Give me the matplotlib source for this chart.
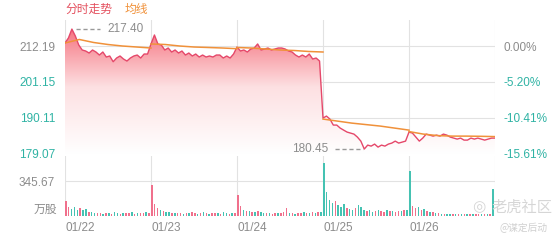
import numpy as np
import matplotlib
matplotlib.use("Agg")
import matplotlib.pyplot as plt
from matplotlib.colors import LinearSegmentedColormap

plt.rcParams['font.family'] = ['Liberation Sans', 'Noto Sans CJK SC', 'DejaVu Sans']

# data
dates = ['01/22', '01/23', '01/24', '01/25', '01/26']
prev_close = 212.19
price_ticks = [212.19, 201.15, 190.11, 179.07]
pct_labels = ['0.00%', '-5.20%', '-10.41%', '-15.61%']
vol_tick = 345.67

price_d1 = [213.12, 214.66, 217.40, 215.27, 212.50, 210.96, 210.65, 210.03, 210.96, 210.34,
            209.41, 210.34, 208.80, 209.11, 207.35, 208.49, 209.11, 208.18, 207.56, 208.49,
            209.11, 209.41, 208.49, 209.72, 209.72]
price_d2 = [212.81, 215.58, 212.81, 212.50, 210.96, 211.57, 210.34, 210.96, 210.03, 210.65,
            209.41, 210.03, 209.11, 209.72, 208.80, 209.41, 208.80, 209.11, 208.80, 209.41,
            209.41, 208.49, 209.11, 208.49, 209.72]
price_d3 = [211.88, 210.65, 210.96, 210.34, 211.26, 211.57, 212.81, 210.96, 211.26, 211.57,
            210.96, 211.26, 211.57, 211.57, 211.26, 210.65, 210.34, 209.41, 208.80, 209.41,
            208.80, 209.72, 208.18, 208.49, 207.56]
price_d4 = [189.98, 190.60, 189.68, 187.83, 187.83, 186.90, 186.28, 185.67, 185.36, 185.05,
            184.13, 182.89, 180.45, 181.66, 181.35, 181.97, 181.04, 181.66, 181.35, 181.97,
            182.28, 182.89, 182.28, 182.58, 182.89]
price_d5 = [185.67, 185.36, 184.13, 182.89, 183.82, 185.05, 184.74, 184.43, 184.74, 184.43,
            185.05, 184.74, 184.13, 183.82, 183.51, 183.82, 183.20, 183.20, 183.82, 183.51,
            183.82, 183.51, 183.20, 183.51, 183.82, 183.82]

avg_d1 = [213.12, 214.20, 213.27, 212.65, 212.19, 211.88, 211.57]
avg_d2 = [212.81, 212.65, 212.19, 211.88, 211.73, 211.57, 211.36]
avg_d3 = [211.73, 211.57, 211.26, 210.96, 210.80, 210.50, 210.34]
avg_d4 = [189.68, 189.06, 188.44, 187.98, 187.52, 186.90, 186.28]
avg_d5 = [185.83, 185.05, 184.59, 184.43, 184.43, 184.37, 184.28]

vol_d1 = [150, 90, 70, 85, 60, 75, 55, 70, 40, 35, 30, 25, 30, 20, 25,
          30, 22, 35, 25, 20, 30, 25, 28, 35, 22, 30, 25, 30, 35, 28]
vol_d2 = [306, 120, 80, 60, 45, 40, 35, 30, 25, 30, 25, 20, 30, 25, 40,
          25, 20, 30, 35, 25, 20, 28, 25, 30, 22, 35, 25, 20, 25, 30]
vol_d3 = [207, 100, 60, 50, 45, 40, 35, 45, 40, 30, 25, 30, 20, 25, 30,
          25, 35, 80, 30, 25, 20, 30, 25, 35, 25, 30, 40, 30, 35, 40]
vol_d4 = [524, 237, 160, 130, 150, 110, 90, 120, 80, 70, 60, 75, 110, 90, 60,
          50, 55, 40, 45, 60, 50, 40, 55, 45, 50, 40, 45, 50, 55, 60]
vol_d5 = [445, 100, 80, 90, 60, 70, 50, 40, 35, 30, 25, 20, 20, 15, 18,
          20, 15, 18, 20, 15, 18, 20, 15, 18, 20, 18, 15, 20, 18, 267]
# p = up (red), t = down (green)
dir_d1 = "pptttpttpttpptptpttptpptptpptp"
dir_d2 = "ppptpttptpptptpptptptpptpttptp"
dir_d3 = "pptptptpttptpptppptptpptptptpt"
dir_d4 = "ttttptttpttptttpttptpptptpptpt"
dir_d5 = "tpptptptptptpttptptptptpptptpt"

RED = '#e5486a'
ORANGE = '#f0913a'
TEAL = '#2fb3a4'
GRAY = '#8c8c8c'
GRID = '#e2e2e2'

prices = [price_d1, price_d2, price_d3, price_d4, price_d5]
avgs = [avg_d1, avg_d2, avg_d3, avg_d4, avg_d5]
vols = [vol_d1, vol_d2, vol_d3, vol_d4, vol_d5]
dirs = [dir_d1, dir_d2, dir_d3, dir_d4, dir_d5]

px, py = [], []
for d, p in enumerate(prices):
    px += [d + i / 25 for i in range(len(p))]
    py += p
px = np.array(px)
py = np.array(py)

fig = plt.figure(figsize=(5.6, 2.4), dpi=100)
W, H = 560.0, 240.0
ax = fig.add_axes([65 / W, 1 - 154 / H, 430 / W, 134 / H])
axv = fig.add_axes([65 / W, 1 - 216 / H, 430 / W, 60 / H])

ylo, yhi = 178.92, 220.20
ax.set_xlim(0, 5)
ax.set_ylim(ylo, yhi)

# gradient fill under the price line
cmap = LinearSegmentedColormap.from_list('fade', ['#ffffff', '#fde0e2', '#f46472'])
grad = np.linspace(0, 1, 256).reshape(-1, 1)
img = ax.imshow(grad, extent=[0, 5, ylo, yhi], origin='lower', aspect='auto',
                cmap=cmap, zorder=1)
poly = ax.fill_between(px, py, ylo, facecolor='none', edgecolor='none')
img.set_clip_path(poly.get_paths()[0], transform=ax.transData)

for t in price_ticks:
    ax.axhline(t, color=GRID, lw=0.8, zorder=0.5)
for d in range(6):
    ax.axvline(d, color=GRID, lw=0.8, zorder=0.5)
    axv.axvline(d, color=GRID, lw=0.8, zorder=0.5)

ax.plot(px, py, color=RED, lw=1.0, zorder=3)
# average line, one piece per day
for d, a in enumerate(avgs):
    ax.plot(np.linspace(d, d + 1, len(a)), a, color=ORANGE, lw=1.1, zorder=4)

# high / low markers
ax.plot([0.13, 0.41], [217.40, 217.40], ls=(0, (3, 2)), color='#999999', lw=1.0, zorder=5)
ax.text(0.49, 217.40, '217.40', color=GRAY, fontsize=8.5, va='center', ha='left', zorder=5)
ax.plot([3.14, 3.46], [180.45, 180.45], ls=(0, (3, 2)), color='#999999', lw=1.0, zorder=5)
ax.text(3.06, 180.45, '180.45', color=GRAY, fontsize=8.5, va='center', ha='right', zorder=5)

ax.set_yticks(price_ticks)
ax.set_yticklabels(['%.2f' % t for t in price_ticks])
for lab, t in zip(ax.get_yticklabels(), price_ticks):
    lab.set_color(GRAY if t >= prev_close else TEAL)
ax.tick_params(axis='y', length=0, pad=7, labelsize=8.5)
ax.set_xticks([])

axr = ax.twinx()
axr.set_ylim(ylo, yhi)
axr.set_yticks(price_ticks)
axr.set_yticklabels(pct_labels)
for lab, t in zip(axr.get_yticklabels(), price_ticks):
    lab.set_color(GRAY if t >= prev_close else TEAL)
axr.tick_params(axis='y', length=0, pad=6, labelsize=8.5)

# volume bars
for d in range(5):
    xs = [d + 0.01 + i / 30 for i in range(len(vols[d]))]
    cs = ['#f0708c' if c == 'p' else '#45c2b2' for c in dirs[d]]
    axv.bar(xs, vols[d], width=0.017, color=cs, zorder=2)
axv.set_xlim(0, 5)
axv.set_ylim(0, vol_tick * 60 / 35)
axv.axhline(vol_tick, color=GRID, lw=0.8, zorder=0.5)
axv.set_yticks([vol_tick])
axv.set_yticklabels(['345.67'], color=GRAY)
axv.tick_params(axis='y', length=0, pad=7, labelsize=8.5)
axv.set_xticks([])

for a in (ax, axr, axv):
    for s in a.spines.values():
        s.set_visible(False)

fig.text(57 / W, 1 - 210 / H, '万股', color=GRAY, fontsize=8.5, ha='right', va='center')
for d, lab in enumerate(dates):
    fig.text((65 + 86 * d) / W, 1 - 228 / H, lab, color=GRAY, fontsize=8.5,
             ha='left', va='center')

fig.text(65 / W, 1 - 10 / H, '分时走势', color='#e4505e', fontsize=8.5, ha='left', va='center')
fig.text(125 / W, 1 - 10 / H, '均线', color=ORANGE, fontsize=8.5, ha='left', va='center')

# watermark
fig.text(479 / W, 1 - 207 / H, '◎', color='#d6d6d6', fontsize=11, ha='center', va='center',
         family=['DejaVu Sans'])
fig.text(492 / W, 1 - 207 / H, '老虎社区', color='#d6d6d6', fontsize=11, ha='left', va='center',
         family=['Noto Sans CJK SC'])
fig.text(500 / W, 1 - 228 / H, '@谋定后动', color='#d0d0d0', fontsize=7, ha='left', va='center',
         family=['Noto Sans CJK SC', 'DejaVu Sans'])

fig.savefig('out.png', dpi=100)
